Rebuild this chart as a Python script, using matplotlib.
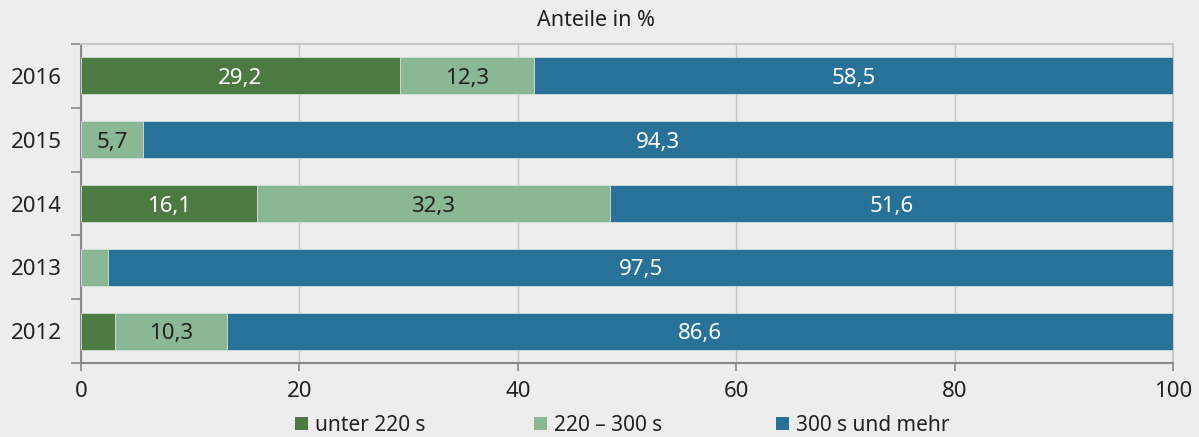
import numpy as np
import matplotlib.pyplot as plt

plt.rcParams['font.family'] = ['Noto Sans', 'DejaVu Sans']

# Data
years = ['2012', '2013', '2014', '2015', '2016']
unter_220 = [3.1, 0.0, 16.1, 0.0, 29.2]
s220_300 = [10.3, 2.5, 32.3, 5.7, 12.3]
s300_mehr = [86.6, 97.5, 51.6, 94.3, 58.5]
series_names = ['unter 220 s', '220 – 300 s', '300 s und mehr']

colors = ['#4d7a40', '#8ab794', '#287299']
text_colors = ['white', '#222222', 'white']
bg = '#ededed'

fig = plt.figure(figsize=(11.99, 4.37), dpi=100, facecolor=bg)
ax = fig.add_axes([0.0676, 0.1693, 0.9107, 0.73])
ax.set_facecolor(bg)

y = np.arange(len(years))
left = np.zeros(len(years))
bars = []
for vals, col, tcol, name in zip([unter_220, s220_300, s300_mehr], colors, text_colors, series_names):
    vals = np.array(vals)
    b = ax.barh(y, vals, left=left, height=0.58, color=col, edgecolor='#d4dcd6',
                linewidth=0.6, label=name, zorder=3)
    bars.append(b)
    for yi, v, l in zip(y, vals, left):
        if v >= 5:
            ax.text(l + v / 2, yi - 0.04, f'{v:.1f}'.replace('.', ','), ha='center', va='center',
                    color=tcol, fontsize=16, zorder=4)
    left += vals

ax.set_xlim(0, 100)
ax.set_ylim(-0.5, len(years) - 0.5)
ax.set_xticks([0, 20, 40, 60, 80, 100])
ax.set_yticks(y)
ax.set_yticklabels(years)
ax.set_yticks(np.arange(-0.5, len(years), 1), minor=True)
ax.tick_params(axis='y', which='major', length=0, pad=14, labelsize=16, labelcolor='#222222')
ax.tick_params(axis='y', which='minor', length=7, width=1.2, color='#888888')
ax.tick_params(axis='x', which='major', length=6, width=1.2, color='#888888', pad=7,
               labelsize=16, labelcolor='#222222')
ax.grid(axis='x', color='#c8c8c8', linewidth=1, zorder=0)

for side in ['top', 'right']:
    ax.spines[side].set_color('#c8c8c8')
    ax.spines[side].set_linewidth(1.5)
for side in ['left', 'bottom']:
    ax.spines[side].set_color('#888888')
    ax.spines[side].set_linewidth(1.5)

fig.text(0.497, 0.953, 'Anteile in %', ha='center', va='center', fontsize=15.5, color='#222222')

# legend entries placed individually (uneven spacing in the original)
for b, name, xpos in zip(bars, series_names, [295, 534, 776]):
    leg = fig.legend([b], [name], loc='center left', bbox_to_anchor=(xpos / 1199, 0.027),
                     frameon=False, fontsize=15, handlelength=0.62, handleheight=0.62,
                     handletextpad=0.35, borderpad=0, borderaxespad=0, labelcolor='#222222')
    for h in leg.legend_handles:
        h.set_edgecolor('none')

fig.savefig('out.png', dpi=100, facecolor=bg)
